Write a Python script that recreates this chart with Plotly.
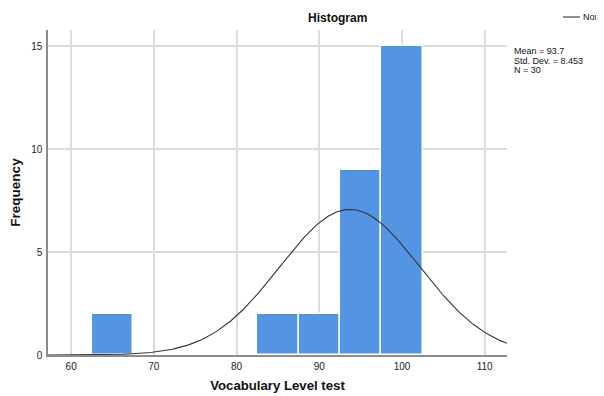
import numpy as np
import plotly.graph_objects as go

bin_centers = [65, 85, 90, 95, 100]
counts = [2, 2, 2, 9, 15]
bin_width = 5
mean = 93.7
sd = 8.453
n = 30
x_ticks = [60, 70, 80, 90, 100, 110]
y_ticks = [0, 5, 10, 15]

FONT = "Liberation Sans, Arial, sans-serif"

xs = np.linspace(57.2, 112.7, 300)
ys = n * bin_width * np.exp(-0.5 * ((xs - mean) / sd) ** 2) / (sd * np.sqrt(2 * np.pi))

fig = go.Figure()
fig.add_trace(go.Bar(
    x=bin_centers, y=counts, width=[bin_width] * len(counts),
    marker=dict(color="#5394E3", line=dict(color="white", width=1.5)),
    showlegend=False,
))
fig.add_trace(go.Scatter(
    x=xs, y=ys, mode="lines", line=dict(color="#333333", width=1.1),
    name="Normal", showlegend=False,
))

# page has an 8px body margin; figure sized so the plot area lands where the reference has it
fig.update_layout(
    width=604, height=388,
    margin=dict(l=40, r=105, t=22, b=41),
    paper_bgcolor="white", plot_bgcolor="white",
    font=dict(family=FONT, color="#222222", size=10),
    bargap=0,
    xaxis=dict(
        range=[57.2, 112.7], tickvals=x_ticks, showgrid=True, gridcolor="#dcdcdc", gridwidth=1.5,
        showline=True, linecolor="#8c8c8c", linewidth=1.5, zeroline=False, automargin=False,
        ticks="", tickfont=dict(size=10, color="#222222"), ticklabelstandoff=1,
        title=dict(text="<b>Vocabulary Level test</b>", font=dict(size=13.2, color="#111111"), standoff=10),
    ),
    yaxis=dict(
        range=[0, 15.8], tickvals=y_ticks, showgrid=True, gridcolor="#dcdcdc", gridwidth=1.5,
        showline=True, linecolor="#8c8c8c", linewidth=1.5, zeroline=False, automargin=False,
        ticks="", tickfont=dict(size=10, color="#222222"), ticklabelstandoff=2,
        title=dict(text="<b>Frequency</b>", font=dict(size=13.5, color="#111111"), standoff=8),
    ),
)

# title
fig.add_annotation(text="<b>Histogram</b>", xref="paper", yref="paper",
                   x=(337 - 48) / 459, y=1, yshift=12, showarrow=False,
                   font=dict(size=12, color="#111111", family=FONT), xanchor="center", yanchor="middle")

# legend (manual)
fig.add_shape(type="line", xref="paper", yref="paper",
              x0=(563 - 48) / 459, x1=(580 - 48) / 459, y0=1 + 13 / 325, y1=1 + 13 / 325,
              line=dict(color="#333333", width=1.1))
fig.add_annotation(text="Normal", xref="paper", yref="paper",
                   x=(581 - 48) / 459, y=1 + 13 / 325, showarrow=False, xanchor="left", yanchor="middle",
                   font=dict(size=9, color="#111111", family=FONT))

stats = [f"Mean = {mean}", f"Std. Dev. = {sd}", f"N = {n}"]
for i, s in enumerate(stats):
    ypx = 51.5 + 9.5 * i
    fig.add_annotation(text=s, xref="paper", yref="paper",
                       x=(512 - 48) / 459, y=(355 - ypx) / 325, showarrow=False,
                       xanchor="left", yanchor="middle",
                       font=dict(size=9, color="#111111", family=FONT))

fig.write_html("out.html")
